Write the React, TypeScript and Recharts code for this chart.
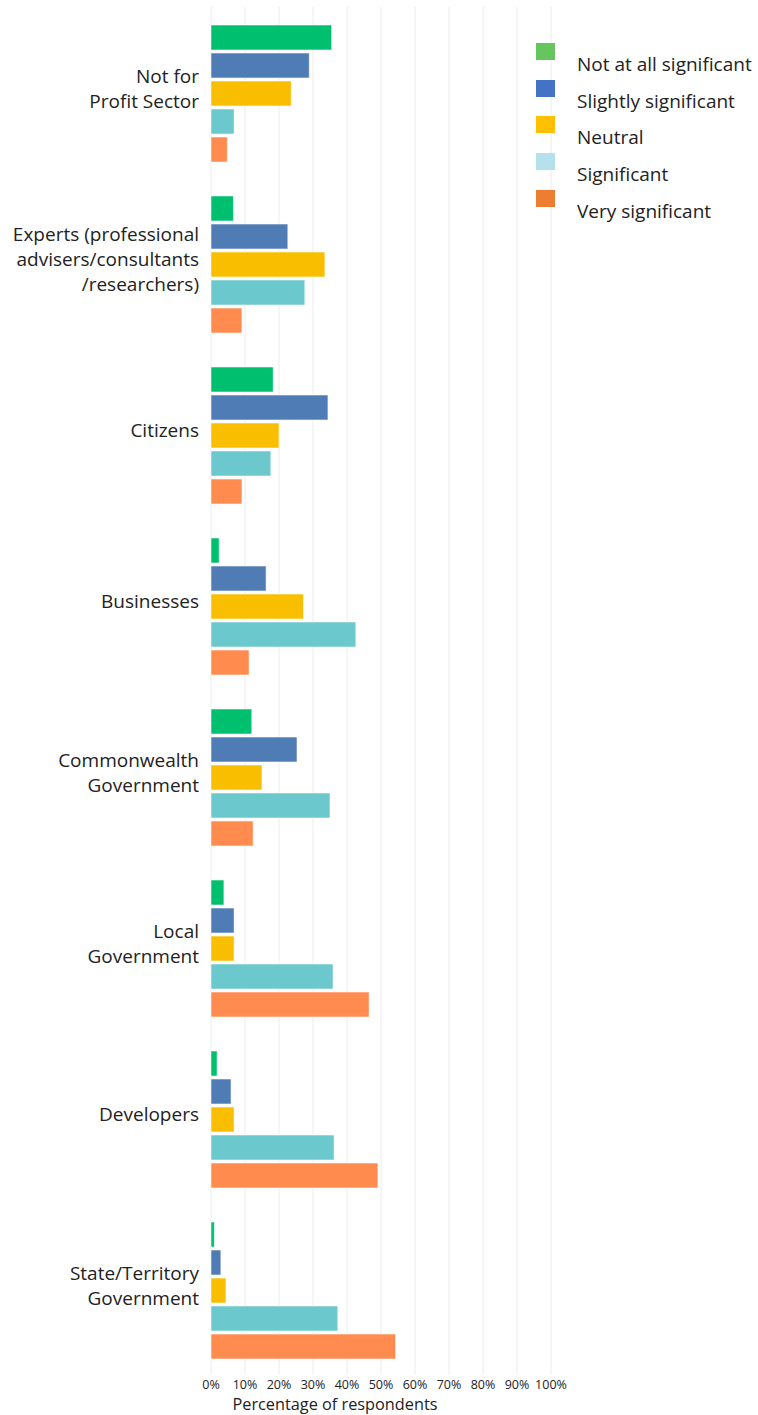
import {
  BarChart,
  Bar,
  XAxis,
  YAxis,
  CartesianGrid,
} from "recharts";

const categories = [
  "Not for|Profit Sector",
  "Experts (professional|advisers/consultants|/researchers)",
  "Citizens",
  "Businesses",
  "Commonwealth|Government",
  "Local|Government",
  "Developers",
  "State/Territory|Government",
];

const notAtAll = [35.5, 6.6, 18.3, 2.4, 12.0, 3.8, 1.8, 1.0];
const slightly = [28.9, 22.6, 34.4, 16.2, 25.3, 6.8, 5.9, 2.9];
const neutral = [23.6, 33.5, 20.0, 27.2, 15.0, 6.8, 6.8, 4.4];
const significant = [6.8, 27.6, 17.6, 42.6, 35.0, 35.9, 36.2, 37.3];
const verySignificant = [4.8, 9.1, 9.1, 11.2, 12.4, 46.5, 49.1, 54.3];

const xTicks = [0, 10, 20, 30, 40, 50, 60, 70, 80, 90, 100];

const series = [
  { key: "notAtAll", name: "Not at all significant", fill: "#00BF6F", legend: "#66C55E" },
  { key: "slightly", name: "Slightly significant", fill: "#507CB6", legend: "#4472C4" },
  { key: "neutral", name: "Neutral", fill: "#F9BE00", legend: "#FFC000" },
  { key: "significant", name: "Significant", fill: "#6BC8CD", legend: "#B4E1EC" },
  { key: "verySignificant", name: "Very significant", fill: "#FF8B4F", legend: "#ED7D31" },
];

const data = categories.map((c, i) => ({
  name: c,
  notAtAll: notAtAll[i],
  slightly: slightly[i],
  neutral: neutral[i],
  significant: significant[i],
  verySignificant: verySignificant[i],
}));

const FONT = "'Open Sans', 'Noto Sans', sans-serif";

const CategoryTick = (props: any) => {
  const { x, y, payload } = props;
  const lines = String(payload.value).split("|");
  const lh = 25;
  const start = -((lines.length - 1) * lh) / 2 - 4;
  return (
    <text x={x} y={y} textAnchor="end" fontSize={19} fontFamily={FONT} fill="#222">
      {lines.map((l: string, i: number) => (
        <tspan key={i} x={x - 4} y={y + start + i * lh} dy="0.35em">
          {l}
        </tspan>
      ))}
    </text>
  );
};

const LegendBox = () => (
  <div
    style={{
      position: "absolute",
      left: 536,
      top: 43,
      width: 222,
      fontFamily: FONT,
      fontSize: 19,
      color: "#222",
    }}
  >
    {series.map((s) => (
      <div key={s.key} style={{ position: "relative", height: 36.7 }}>
        <div
          style={{
            position: "absolute",
            left: 0,
            top: 0,
            width: 19,
            height: 17,
            background: s.legend,
          }}
        />
        <div
          style={{
            position: "absolute",
            left: 41,
            top: 9,
            lineHeight: "25px",
            whiteSpace: "nowrap",
          }}
        >
          {s.name}
        </div>
      </div>
    ))}
  </div>
);

export default function App() {
  return (
    <div
      style={{
        position: "absolute",
        left: 0,
        top: 0,
        width: 758,
        height: 1415,
        background: "#fff",
      }}
    >
      <BarChart
        width={758}
        height={1415}
        data={data}
        layout="vertical"
        margin={{ top: 7, right: 207, bottom: 0, left: 0 }}
        barCategoryGap={18}
        barGap={3}
      >
        <CartesianGrid horizontal={false} stroke="#ececec" />
        <XAxis
          type="number"
          domain={[0, 100]}
          ticks={xTicks}
          tickFormatter={(v) => `${v}%`}
          axisLine={false}
          tickLine={false}
          height={40}
          tickSize={0}
          tickMargin={5}
          tick={{ fontSize: 12.5, fill: "#222", fontFamily: FONT }}
          interval={0}
          label={{
            value: "Percentage of respondents",
            position: "insideBottom",
            offset: 5,
            dx: -46,
            style: { fontSize: 16.3, fill: "#222", fontFamily: FONT },
          }}
        />
        <YAxis
          type="category"
          dataKey="name"
          width={211}
          axisLine={false}
          tickLine={false}
          tick={<CategoryTick />}
        />
        {series.map((s) => (
          <Bar
            key={s.key}
            dataKey={s.key}
            name={s.name}
            fill={s.fill}
            stroke="rgba(255,255,255,0.55)"
            strokeWidth={1}
            isAnimationActive={false}
          />
        ))}
      </BarChart>
      <LegendBox />
    </div>
  );
}
